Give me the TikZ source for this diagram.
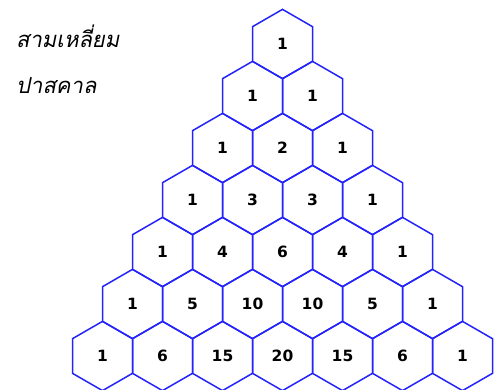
\documentclass[tikz,border=0pt]{standalone}
\usepackage{fontspec}
\setmainfont{DejaVu Sans}
\newfontfamily\thaifont[Script=Thai,FakeSlant=0.2]{Loma}
\usetikzlibrary{shapes.geometric}
\definecolor{hexblue}{RGB}{35,35,250}
\begin{document}
\begin{tikzpicture}[x=1pt,y=-1pt,
  hexcell/.style={regular polygon, regular polygon sides=6, shape border rotate=30,
    minimum size=69.28pt, inner sep=0pt, outer sep=0pt, draw=hexblue, line width=1.5pt,
    font=\fontsize{15.5}{17}\selectfont\bfseries},
  thaititle/.style={anchor=base west, inner sep=0pt, font=\thaifont\fontsize{22}{26}\selectfont}]
\useasboundingbox (0,0) rectangle (504,389);
\clip (0,0) rectangle (504,389);
\foreach \row [count=\r from 0] in {{1},{1,1},{1,2,1},{1,3,3,1},{1,4,6,4,1},{1,5,10,10,5,1},{1,6,15,20,15,6,1}} {
  \foreach \v [count=\k from 0] in \row {
    \node[hexcell] (n\r-\k) at ({282.5+(\k-\r/2)*60},{44+52*\r}) {\v};
  }
}
\node[thaititle] (t1) at (16,47) {สามเหลี่ยม};
\node[thaititle] (t2) at (16,93) {ปาสคาล};
\end{tikzpicture}
\end{document}
